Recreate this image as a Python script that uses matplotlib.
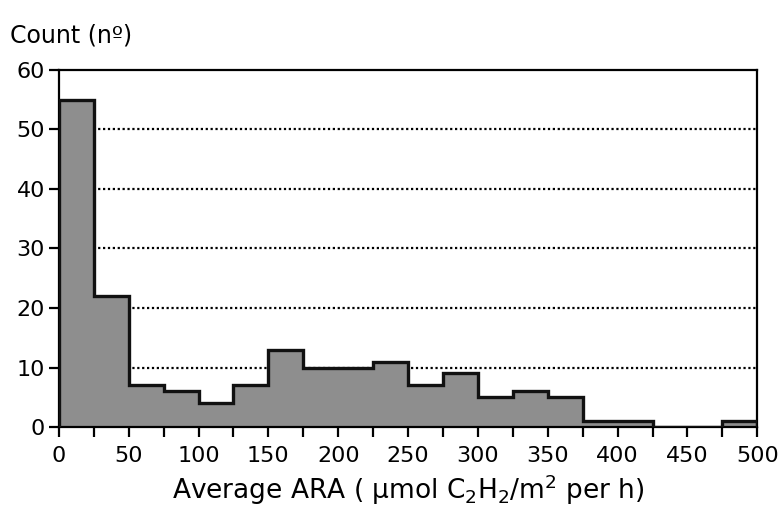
import numpy as np
import matplotlib.pyplot as plt

# bin edges (umol C2H2/m2 per h) and counts per bin
bin_edges = np.arange(0, 525, 25)
counts = [55, 22, 7, 6, 4, 7, 13, 10, 10, 11, 7, 9, 5, 6, 5, 1, 1, 0, 0, 1]
xticks = [0, 50, 100, 150, 200, 250, 300, 350, 400, 450, 500]
yticks = [0, 10, 20, 30, 40, 50, 60]

fig = plt.figure(figsize=(7.84, 5.17), dpi=100)
ax = fig.add_axes([0.075, 0.174, 0.891, 0.691])

ax.stairs(counts, bin_edges, fill=True, color='#8e8e8e', zorder=2)
ax.stairs(counts, bin_edges, fill=False, color='#111111', lw=2.4, zorder=3)

ax.set_xlim(0, 500)
ax.set_ylim(0, 60)
ax.set_xticks(xticks)
ax.set_xticks(bin_edges, minor=True)
ax.set_yticks(yticks)
for y in yticks[1:-1]:
    ax.axhline(y, color='black', ls=(0, (1, 1.2)), lw=1.6, zorder=1)

for s in ax.spines.values():
    s.set_linewidth(1.6)
ax.tick_params(axis='both', which='both', direction='out', width=1.6,
               labelsize=16, length=7)
ax.tick_params(axis='x', pad=7)
ax.tick_params(axis='y', pad=3)

fig.text(0.013, 0.917, 'Count (nº)', fontsize=17)
ax.set_xlabel(r'Average ARA ( µmol C$_2$H$_2$/m$^2$ per h)', fontsize=19, labelpad=4)

fig.savefig('out.png', dpi=100)
